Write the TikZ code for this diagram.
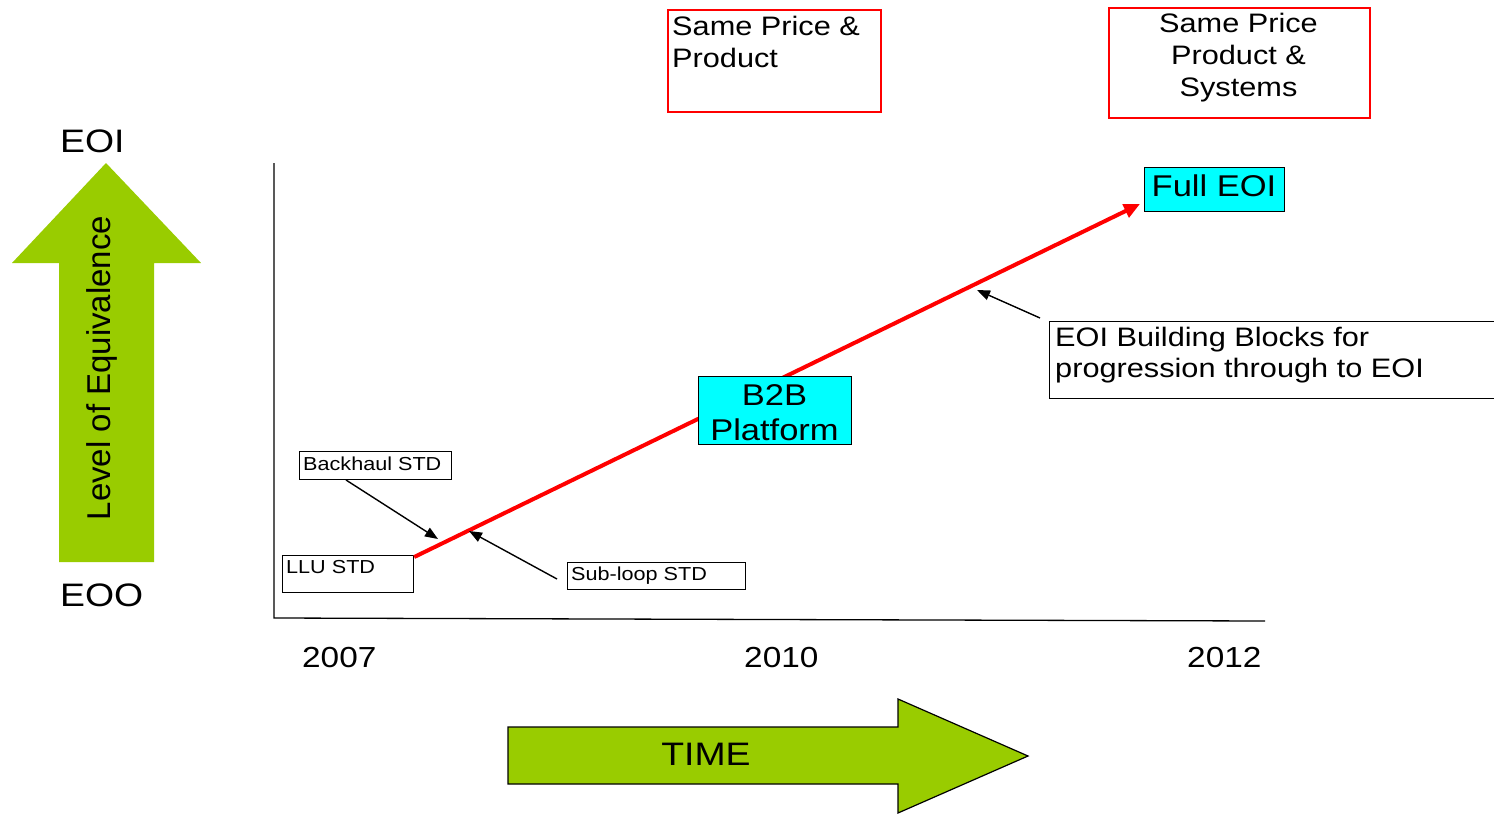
\documentclass[tikz,border=0pt]{standalone}
\usepackage{fontspec}
\setmainfont{Liberation Sans}[FakeStretch=1.15]
\newfontfamily\sidefont{Liberation Sans}
\usetikzlibrary{arrows.meta}
\definecolor{leaf}{HTML}{99CC00}
\definecolor{aqua}{HTML}{00FFFF}
\begin{document}
\begin{tikzpicture}[x=1pt,y=-1pt,
  plainbox/.style={draw=black, line width=1.2pt, inner sep=0pt, anchor=north west},
  pricebox/.style={draw=red, line width=1.5pt, inner sep=0pt, anchor=north west},
  platebox/.style={draw=black, fill=aqua, line width=1.2pt, inner sep=0pt, anchor=north west},
  txt/.style={inner sep=0pt, anchor=base west},
  ctxt/.style={inner sep=0pt, anchor=base},
  huge/.style={font=\fontsize{32.5}{38}\selectfont},
  large/.style={font=\fontsize{30}{35}\selectfont},
  mid/.style={font=\fontsize{26.7}{32}\selectfont},
  year/.style={font=\fontsize{29}{34}\selectfont},
  small/.style={font=\fontsize{18.8}{22}\selectfont},
  pointer/.style={draw=black, line width=1.4pt, -{Triangle[length=13pt,width=10pt]}},
  trend/.style={draw=red, line width=4pt, -{Triangle[length=16pt,width=14pt]}},
  axis/.style={draw=black, line width=1.3pt},
  bigarrow/.style={fill=leaf}
]
\useasboundingbox (0,0) rectangle (1494,814);

% vertical "level of equivalence" arrow
\path[bigarrow] (106,163) -- (201,263) -- (154,263) -- (154,562) -- (59,562)
  -- (59,263) -- (12,263) -- cycle;
\node[inner sep=0pt, anchor=base, rotate=90,
  font=\sidefont\fontsize{33}{38}\selectfont] (level) at (110,368) {Level of Equivalence};
\node[txt, huge] (eoi) at (60,152) {EOI};
\node[txt, huge] (eoo) at (60,606) {EOO};

% axes
\coordinate (origin) at (274,618);
\coordinate (ytop) at (274,163);
\coordinate (xend) at (1265,621);
\draw[axis] (ytop) -- (origin) -- (xend);
\node[txt, year] (y2007) at (302,667) {2007};
\node[txt, year] (y2010) at (744,667) {2010};
\node[txt, year] (y2012) at (1187,667) {2012};

% time arrow
\draw[bigarrow, draw=black, line width=1.2pt] (508,727) -- (898,727) -- (898,699)
  -- (1028,756) -- (898,813) -- (898,784) -- (508,784) -- cycle;
\node[ctxt, huge] (time) at (706,765) {TIME};

% milestone boxes
\node[plainbox, minimum width=131pt, minimum height=37pt] (llu) at (282,555) {};
\node[txt, small] (llutext) at (286,573) {LLU STD};
\node[plainbox, minimum width=152pt, minimum height=28pt] (backhaul) at (299,451) {};
\node[txt, small] (backhaultext) at (303,470) {Backhaul STD};
\node[plainbox, minimum width=178pt, minimum height=27pt] (subloop) at (567,562) {};
\node[txt, small] (sublooptext) at (571,580) {Sub-loop STD};

% progression line
\coordinate (trendend) at (1140,204);
\draw[trend] (llu.north east) ++(0,2) -- (trendend);

% B2B platform box sits on top of the line
\node[platebox, minimum width=153pt, minimum height=68pt] (b2b) at (698,376) {};
\node[ctxt, large] (b2btextA) at (774.5,405) {B2B};
\node[ctxt, large] (b2btextB) at (774.5,440) {Platform};

\node[platebox, minimum width=140pt, minimum height=44pt] (full) at (1144,167) {};
\node[ctxt, large] (fulltext) at (1214,196) {Full EOI};

% building blocks note
\node[plainbox, minimum width=446pt, minimum height=77pt] (blocks) at (1049,321) {};
\node[txt, mid] (blockstextA) at (1055,346) {EOI Building Blocks for};
\node[txt, mid] (blockstextB) at (1055,377) {progression through to EOI};

% price boxes
\node[pricebox, minimum width=213pt, minimum height=102pt] (price) at (667,9) {};
\node[txt, mid] (pricetextA) at (672,35) {Same Price \&};
\node[txt, mid] (pricetextB) at (672,67) {Product};
\node[pricebox, minimum width=261pt, minimum height=110pt] (systems) at (1108,7) {};
\node[ctxt, mid] (systemstextA) at (1238.5,32) {Same Price};
\node[ctxt, mid] (systemstextB) at (1238.5,64) {Product \&};
\node[ctxt, mid] (systemstextC) at (1238.5,96) {Systems};

% pointers onto the line
\coordinate (backhaulstart) at (346,480);
\coordinate (backhaultip) at (438,539);
\coordinate (subloopstart) at (557,579);
\coordinate (subleadtip) at (469,531);
\coordinate (blocksstart) at (1040,318);
\coordinate (blockstip) at (977,290);
\draw[pointer] (backhaulstart) -- (backhaultip);
\draw[pointer] (subloopstart) -- (subleadtip);
\draw[pointer] (blocksstart) -- (blockstip);
\end{tikzpicture}
\end{document}
